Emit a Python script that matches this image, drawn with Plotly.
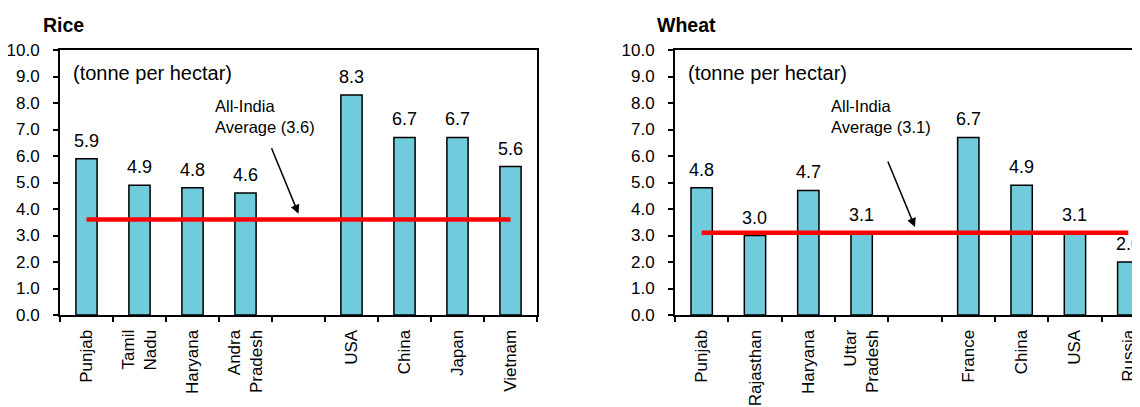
import plotly.graph_objects as go

rice_cats = ["Punjab", "Tamil<br>Nadu", "Haryana", "Andra<br>Pradesh", " ",
             "USA", "China", "Japan", "Vietnam"]
rice_vals = [5.9, 4.9, 4.8, 4.6, None, 8.3, 6.7, 6.7, 5.6]
rice_avg = 3.6

wheat_cats = ["Punjab", "Rajasthan", "Haryana", "Uttar<br>Pradesh", " ",
              "France", "China", "USA", "Russia"]
wheat_vals = [4.8, 3.0, 4.7, 3.1, None, 6.7, 4.9, 3.1, 2.0]
wheat_avg = 3.1

BAR_COLOR = "#70CCDD"
FONT = "Liberation Sans, Arial, sans-serif"
# the page body keeps its default 8px margin, so the figure is shrunk to fit
OFF = 8
W, H = 1140 - OFF, 407 - OFF


def px(x):
    return (x - OFF) / W


def py(y):
    return 1 - (y - OFF) / H


fig = go.Figure()


def add_panel(cats, vals, avg, n, title, title_x):
    xa = "x" if n == 1 else f"x{n}"
    ya = "y" if n == 1 else f"y{n}"
    fig.add_trace(go.Bar(
        x=cats, y=vals, width=0.4, xaxis=xa, yaxis=ya,
        marker=dict(color=BAR_COLOR, line=dict(color="black", width=1.5)),
        showlegend=False, hoverinfo="skip",
    ))
    fig.add_trace(go.Scatter(
        x=[cats[0], cats[-1]], y=[avg, avg], mode="lines", xaxis=xa, yaxis=ya,
        line=dict(color="#FF0000", width=4.5), showlegend=False, hoverinfo="skip",
    ))
    for c, v in zip(cats, vals):
        if v is None:
            continue
        fig.add_annotation(
            x=c, y=v, xref=xa, yref=ya, text=f"{v:.1f}", showarrow=False,
            yanchor="bottom", yshift=6, font=dict(size=18, color="black"),
        )
    fig.add_annotation(
        x=-0.3, y=9.15, xref=xa, yref=ya, text="(tonne per hectar)",
        showarrow=False, xanchor="left", yanchor="middle",
        font=dict(size=20, color="black"),
    )
    fig.add_annotation(
        x=2.39, y=7.5, xref=xa, yref=ya, text=f"All-India<br>Average ({avg})",
        showarrow=False, xanchor="left", yanchor="middle", align="left",
        font=dict(size=16.5, color="black"),
    )
    fig.add_annotation(
        x=4.0, y=avg + 0.22, ax=3.48, ay=avg + 2.75, xref=xa, yref=ya,
        axref=xa, ayref=ya, text="", showarrow=True, arrowhead=2,
        arrowsize=1.2, arrowwidth=1.5, arrowcolor="black",
    )
    fig.add_annotation(
        x=px(title_x), y=py(25), xref="paper", yref="paper",
        text=f"<b>{title}</b>", showarrow=False, xanchor="left",
        yanchor="middle", font=dict(size=19.5, color="black"),
    )


add_panel(rice_cats, rice_vals, rice_avg, 1, "Rice", 41)
add_panel(wheat_cats, wheat_vals, wheat_avg, 2, "Wheat", 655)

y_dom = [py(315), py(50)]
xcommon = dict(
    type="category", showline=True, linecolor="black", linewidth=2,
    ticks="outside", tickson="boundaries", ticklen=5, tickwidth=2,
    tickcolor="black", tickangle=-90, showgrid=False, automargin=False,
    tickfont=dict(size=17, color="black"), mirror=True, ticklabelstandoff=6,
)
ycommon = dict(
    range=[0, 10], dtick=1, tickformat=".1f", showline=True,
    linecolor="black", linewidth=2, ticks="outside", ticklen=5, tickwidth=2,
    tickcolor="black", showgrid=False, zeroline=False, automargin=False,
    tickfont=dict(size=17, color="black"), domain=y_dom, ticklabelstandoff=10,
)

fig.update_layout(
    width=W, height=H,
    margin=dict(l=0, r=0, t=0, b=0),
    paper_bgcolor="white", plot_bgcolor="white",
    font=dict(family=FONT, color="black"),
    xaxis=dict(xcommon, domain=[px(60), px(537)], range=[-0.5, 8.5], anchor="y"),
    yaxis=dict(ycommon, anchor="x", mirror=True),
    xaxis2=dict(xcommon, domain=[px(675), 1.0], range=[-0.5, 8.22], anchor="y2"),
    yaxis2=dict(ycommon, anchor="x2", mirror=False),
)

fig.write_html("out.html")
